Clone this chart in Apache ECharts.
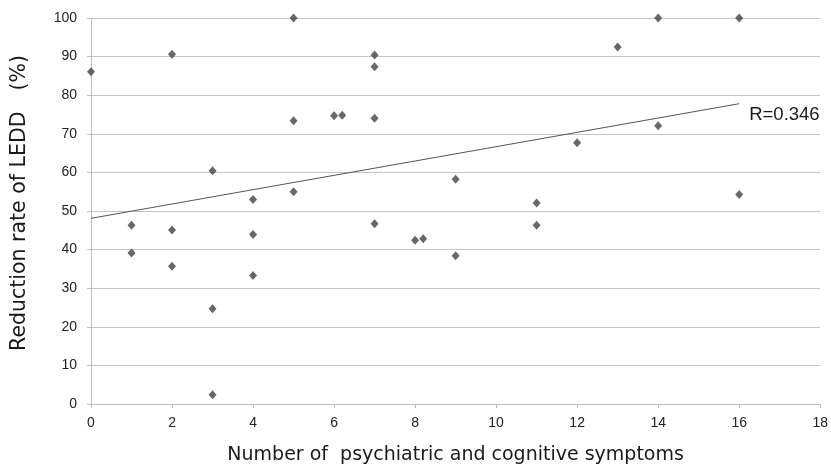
<!DOCTYPE html>
<html><head><meta charset="utf-8">
<script src="https://cdn.jsdelivr.net/npm/echarts@6/dist/echarts.min.js"></script>
<style>html,body{margin:0;padding:0;background:#fff}#c{width:831px;height:470px}</style>
</head><body><div id="c"></div>
<script>
const symptoms = [0, 2, 3, 4, 5, 7, 7, 5, 6, 6.2, 7, 9, 11, 5, 14, 16, 13, 12, 14, 16, 1, 1, 2, 2, 3, 3, 4, 4, 7, 8, 8.2, 9, 11];
const reduction = [86.1, 90.6, 60.4, 53.0, 100, 90.4, 87.4, 73.4, 74.7, 74.8, 74.0, 58.2, 52.1, 55.0, 100, 100, 92.5, 67.7, 72.1, 54.3, 46.3, 39.1, 45.1, 35.7, 24.7, 2.4, 43.9, 33.3, 46.7, 42.4, 42.8, 38.4, 46.3];
const trendX = [0, 16];
const trendY = [48.1, 77.8];
const rLabel = 'R=0.346';
const xTicks = [0, 2, 4, 6, 8, 10, 12, 14, 16, 18];
const yTicks = [0, 10, 20, 30, 40, 50, 60, 70, 80, 90, 100];

const chart = echarts.init(document.getElementById('c'));
chart.setOption({
  animation: false,
  backgroundColor: '#fff',
  grid: {left: 91, right: 9, top: 18, bottom: 64, containLabel: false},
  xAxis: {
    type: 'value', min: xTicks[0], max: xTicks[xTicks.length - 1], interval: 2,
    name: 'Number of  psychiatric and cognitive symptoms',
    nameLocation: 'middle', nameGap: 42,
    nameTextStyle: {fontSize: 19, color: '#1a1a1a', fontFamily: 'DejaVu Sans'},
    axisLine: {show: true, lineStyle: {color: '#bdbdbd', width: 1}},
    axisTick: {show: true, length: 4, lineStyle: {color: '#bdbdbd'}},
    axisLabel: {fontSize: 14, color: '#222', margin: 12, fontFamily: 'Liberation Sans'},
    splitLine: {show: false}
  },
  yAxis: {
    type: 'value', min: yTicks[0], max: yTicks[yTicks.length - 1], interval: 10,
    name: 'Reduction rate of LEDD\u3000(%)',
    nameLocation: 'middle', nameGap: 61, nameRotate: 90,
    nameTextStyle: {fontSize: 20.5, color: '#1a1a1a', fontFamily: 'DejaVu Sans', padding: [0, 0, 0, 16]},
    axisLine: {show: true, lineStyle: {color: '#bdbdbd', width: 1}},
    axisTick: {show: true, length: 4, lineStyle: {color: '#bdbdbd'}},
    axisLabel: {fontSize: 14, color: '#222', margin: 14, fontFamily: 'Liberation Sans'},
    splitLine: {show: true, lineStyle: {color: '#c4c4c4', width: 1}}
  },
  series: [
    {
      type: 'line',
      data: trendX.map((x, i) => [x, trendY[i]]),
      showSymbol: false,
      symbol: 'none',
      lineStyle: {color: '#555', width: 1},
      z: 2,
      endLabel: {show: true, formatter: rLabel, fontSize: 18.5, color: '#1a1a1a', distance: 10, offset: [0, 11], fontFamily: 'Liberation Sans'}
    },
    {
      type: 'scatter',
      data: symptoms.map((x, i) => [x, reduction[i]]),
      symbol: 'diamond',
      symbolSize: [8, 9],
      itemStyle: {color: '#424242'},
      z: 3
    }
  ]
});
</script></body></html>
